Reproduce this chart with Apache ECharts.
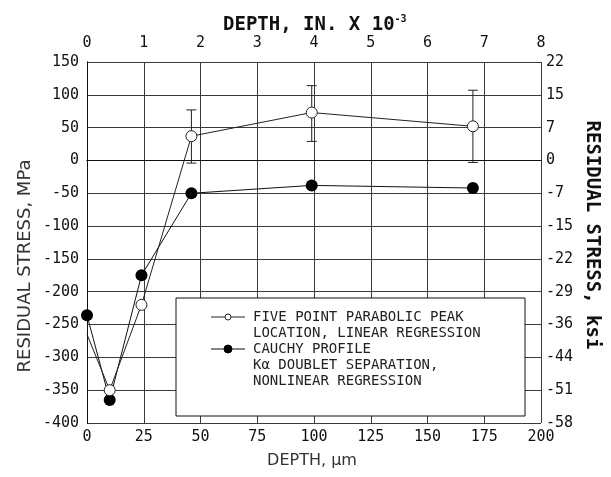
<!DOCTYPE html>
<html>
<head>
<meta charset="utf-8">
<script src="https://cdn.jsdelivr.net/npm/echarts@6/dist/echarts.min.js"></script>
<style>
  html, body { margin: 0; padding: 0; background: #fff; }
  #chart { width: 611px; height: 477px; }
</style>
</head>
<body>
<div id="chart"></div>
<script>
// Depth below the surface (µm) for each measurement
const depthUm = [0, 10, 24, 46, 99, 170];
// Five point parabolic peak location, linear regression (MPa)
const parabolicMPa = [-265, -350, -220, 37, 73, 52];
// Cauchy profile, Kα doublet separation, nonlinear regression (MPa)
const cauchyMPa = [-236, -365, -175, -50, -38, -42];
// Error bars on the parabolic series: [depth, low, high]
const errDepth = [46, 99, 170];
const errLow = [-4, 29, -3];
const errHigh = [77, 114, 107];

// Axis tick labels
const bottomTicks = [0, 25, 50, 75, 100, 125, 150, 175, 200];
const topTicks = ['0', '1', '2', '3', '4', '5', '6', '7', '8'];
const leftTicks = [150, 100, 50, 0, -50, -100, -150, -200, -250, -300, -350, -400];
const rightTicks = ['22', '15', '7', '0', '-7', '-15', '-22', '-29', '-36', '-44', '-51', '-58'];

const legendLines = [
  'FIVE POINT PARABOLIC PEAK',
  'LOCATION, LINEAR REGRESSION',
  'CAUCHY PROFILE',
  'K\u03b1 DOUBLET SEPARATION,',
  'NONLINEAR REGRESSION'
];

const MONO = '"DejaVu Sans Mono", "Liberation Mono", monospace';
const SANS = '"DejaVu Sans", Verdana, sans-serif';
const INK = '#111';
const GRID = '#3a3a3a';

const chart = echarts.init(document.getElementById('chart'), null, { renderer: 'canvas' });

const errData = errDepth.map((d, i) => [d, errLow[i], errHigh[i]]);
const parData = depthUm.map((d, i) => (
  i === 0 ? { value: [d, parabolicMPa[i]], symbol: 'none' } : [d, parabolicMPa[i]]
));
const cauData = depthUm.map((d, i) => [d, cauchyMPa[i]]);

const legendX = 176, legendY = 298, legendW = 349, legendH = 118;
const textX = 253;
const lineGap = 16;
const firstLineY = 317;

const legendGraphics = [
  {
    type: 'rect',
    shape: { x: legendX, y: legendY, width: legendW, height: legendH },
    style: { fill: '#fff', stroke: '#111', lineWidth: 1 },
    z: 50
  },
  {
    type: 'line',
    shape: { x1: 211, y1: firstLineY, x2: 245, y2: firstLineY },
    style: { stroke: '#222', lineWidth: 1 },
    z: 51
  },
  {
    type: 'circle',
    shape: { cx: 228, cy: firstLineY, r: 3 },
    style: { fill: '#fff', stroke: '#222', lineWidth: 1 },
    z: 52
  },
  {
    type: 'line',
    shape: { x1: 211, y1: firstLineY + 2 * lineGap, x2: 245, y2: firstLineY + 2 * lineGap },
    style: { stroke: '#111', lineWidth: 1 },
    z: 51
  },
  {
    type: 'circle',
    shape: { cx: 228, cy: firstLineY + 2 * lineGap, r: 4 },
    style: { fill: '#000', stroke: '#000', lineWidth: 1 },
    z: 52
  }
].concat(legendLines.map((t, i) => ({
  type: 'text',
  x: textX,
  y: firstLineY + i * lineGap,
  z: 52,
  style: {
    text: t,
    font: '14px ' + MONO,
    fill: '#222',
    textAlign: 'left',
    textVerticalAlign: 'middle'
  }
})));

const option = {
  animation: false,
  backgroundColor: '#fff',
  title: {
    text: '{a|DEPTH, IN. X 10}{s|-3}',
    left: 218,
    top: 9,
    textStyle: {
      rich: {
        a: { fontFamily: MONO, fontWeight: 'bold', fontSize: 19, color: INK },
        s: { fontFamily: MONO, fontSize: 10, color: INK, padding: [0, 0, 12, 0] }
      }
    }
  },
  grid: { left: 87, right: 70, top: 62, bottom: 54, containLabel: false },
  xAxis: [
    {
      type: 'value',
      position: 'bottom',
      min: 0, max: 200, interval: 25,
      axisLine: { show: true, lineStyle: { color: '#111', width: 1 } },
      axisTick: { show: false },
      axisLabel: {
        margin: 7,
        fontFamily: MONO, fontSize: 15, color: INK,
        formatter: v => (bottomTicks.indexOf(v) >= 0 ? String(v) : '')
      },
      splitLine: { show: true, lineStyle: { color: GRID, width: 1 } }
    },
    {
      type: 'value',
      position: 'top',
      min: 0, max: 8, interval: 1,
      axisLine: { show: true, lineStyle: { color: '#111', width: 1 } },
      axisTick: { show: false },
      axisLabel: {
        margin: 11,
        fontFamily: MONO, fontSize: 15, color: INK,
        formatter: v => topTicks[v] !== undefined ? topTicks[v] : ''
      },
      splitLine: { show: false }
    }
  ],
  yAxis: [
    {
      type: 'value',
      position: 'left',
      min: -400, max: 150, interval: 50,
      axisLine: { show: true, lineStyle: { color: '#111', width: 1 } },
      axisTick: { show: false },
      axisLabel: {
        margin: 8,
        fontFamily: MONO, fontSize: 15, color: INK,
        formatter: v => (leftTicks.indexOf(v) >= 0 ? String(v) : '')
      },
      splitLine: { show: true, lineStyle: { color: GRID, width: 1 } }
    },
    {
      type: 'value',
      position: 'right',
      min: -400, max: 150, interval: 50,
      axisLine: { show: true, lineStyle: { color: '#111', width: 1 } },
      axisTick: { show: false },
      axisLabel: {
        margin: 5,
        fontFamily: MONO, fontSize: 15, color: INK,
        formatter: v => {
          const i = leftTicks.indexOf(v);
          return i >= 0 ? rightTicks[i] : '';
        }
      },
      splitLine: { show: false }
    }
  ],
  graphic: [
    {
      type: 'text',
      x: 25, y: 266,
      rotation: Math.PI / 2,
      style: {
        text: 'RESIDUAL STRESS, MPa',
        font: '18px ' + SANS,
        fill: '#333',
        textAlign: 'center',
        textVerticalAlign: 'middle'
      }
    },
    {
      type: 'text',
      x: 592, y: 235,
      rotation: -Math.PI / 2,
      style: {
        text: 'RESIDUAL STRESS, ksi',
        font: 'bold 19px ' + MONO,
        fill: INK,
        textAlign: 'center',
        textVerticalAlign: 'middle'
      }
    },
    {
      type: 'text',
      x: 312, y: 461,
      style: {
        text: 'DEPTH, \u00b5m',
        font: '16px ' + SANS,
        fill: '#333',
        textAlign: 'center',
        textVerticalAlign: 'middle'
      }
    }
  ].concat(legendGraphics),
  series: [
    {
      name: 'error',
      type: 'custom',
      xAxisIndex: 0, yAxisIndex: 0,
      z: 3,
      data: errData,
      renderItem: (params, api) => {
        const x = api.value(0);
        const lo = api.coord([x, api.value(1)]);
        const hi = api.coord([x, api.value(2)]);
        const cap = 5;
        const st = { stroke: '#222', lineWidth: 1 };
        return {
          type: 'group',
          children: [
            { type: 'line', shape: { x1: lo[0], y1: lo[1], x2: hi[0], y2: hi[1] }, style: st },
            { type: 'line', shape: { x1: hi[0] - cap, y1: hi[1], x2: hi[0] + cap, y2: hi[1] }, style: st },
            { type: 'line', shape: { x1: lo[0] - cap, y1: lo[1], x2: lo[0] + cap, y2: lo[1] }, style: st }
          ]
        };
      }
    },
    {
      name: 'FIVE POINT PARABOLIC PEAK LOCATION, LINEAR REGRESSION',
      type: 'line',
      xAxisIndex: 0, yAxisIndex: 0,
      z: 5,
      data: parData,
      symbol: 'circle',
      symbolSize: 11,
      showAllSymbol: true,
      lineStyle: { color: '#222', width: 1 },
      itemStyle: { color: '#fff', borderColor: '#222', borderWidth: 1 }
    },
    {
      name: 'CAUCHY PROFILE',
      type: 'line',
      xAxisIndex: 0, yAxisIndex: 0,
      z: 4,
      data: cauData,
      symbol: 'circle',
      symbolSize: 12,
      showAllSymbol: true,
      lineStyle: { color: '#111', width: 1 },
      itemStyle: { color: '#000', borderColor: '#000', borderWidth: 0 }
    }
  ]
};

chart.setOption(option);
</script>
</body>
</html>
